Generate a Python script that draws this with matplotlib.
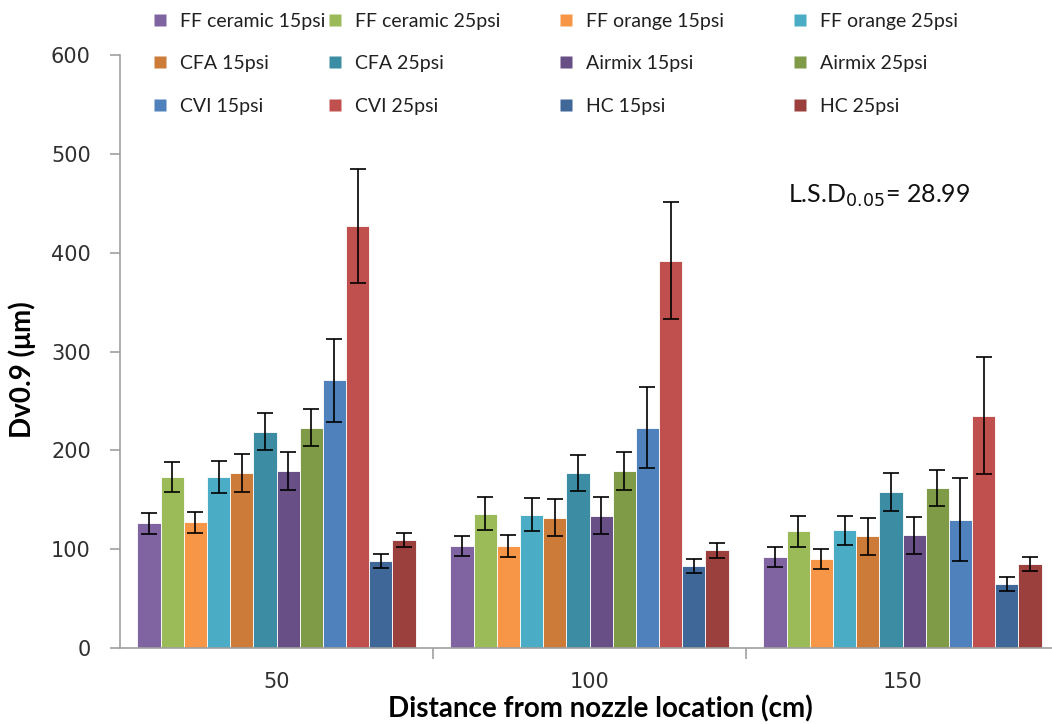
import matplotlib.pyplot as plt
from matplotlib.lines import Line2D
import numpy as np

plt.rcParams['font.family'] = 'DejaVu Sans'
txt_font = 'Lato'

# data
distances = ['50', '100', '150']
series = ['FF ceramic 15psi', 'FF ceramic 25psi', 'FF orange 15psi', 'FF orange 25psi',
          'CFA 15psi', 'CFA 25psi', 'Airmix 15psi', 'Airmix 25psi',
          'CVI 15psi', 'CVI 25psi', 'HC 15psi', 'HC 25psi']
values = [
    [126, 103, 92],    # FF ceramic 15
    [173, 136, 118],   # FF ceramic 25
    [127, 103, 90],    # FF orange 15
    [173, 135, 119],   # FF orange 25
    [177, 132, 113],   # CFA 15
    [219, 177, 158],   # CFA 25
    [179, 134, 114],   # Airmix 15
    [223, 179, 162],   # Airmix 25
    [271, 223, 130],   # CVI 15
    [427, 392, 235],   # CVI 25
    [88, 83, 65],      # HC 15
    [109, 99, 85],     # HC 25
]
errors = [
    [10.5, 10, 10],
    [15, 16.5, 16],
    [11, 11, 10.5],
    [16, 16.5, 15],
    [19, 19, 19],
    [19, 18, 19],
    [19, 19, 19],
    [19, 19.5, 18],
    [42, 41, 42],
    [58, 59, 59],
    [7, 7, 7],
    [7, 7.5, 7],
]
colors = ['#8064A2', '#9BBB59', '#F79646', '#4BACC6',
          '#CC7B38', '#3C8DA3', '#684F86', '#7F9B48',
          '#4F81BD', '#C0504D', '#3F6898', '#9C403E']

fig = plt.figure(figsize=(10.52, 7.24), dpi=100)
ax = fig.add_axes([120/1052, 76/724, 939/1052, 593/724])

x = np.arange(len(distances))
w = 1 / 13.5
for i, s in enumerate(series):
    ax.bar(x + (i - 5.5) * w, values[i], width=w, color=colors[i],
           edgecolor='white', linewidth=0.6, label=s,
           yerr=errors[i], error_kw=dict(ecolor='black', elinewidth=1.2, capsize=6, capthick=1.2))

ax.set_xlim(-0.5, 2.5)
ax.set_ylim(0, 600)
ax.set_yticks(np.arange(0, 601, 100))
ax.set_xticks(x, distances)
ax.set_xticks([0.5, 1.5], minor=True)
ax.tick_params(axis='x', which='major', length=0, pad=17, labelsize=15, labelcolor='#303030')
ax.tick_params(axis='x', which='minor', length=8, color='#A0A0A0', width=1.2)
ax.tick_params(axis='y', length=7, color='#A0A0A0', width=1.2, labelsize=15, pad=14,
               labelcolor='#303030')
for sp in ['top', 'right']:
    ax.spines[sp].set_visible(False)
for sp in ['left', 'bottom']:
    ax.spines[sp].set_color('#A0A0A0')
    ax.spines[sp].set_linewidth(1.2)

ax.set_ylabel('Dv0.9 (μm)', fontsize=20, fontweight='bold', family=txt_font)
ax.yaxis.set_label_coords(-0.089, 0.47)
ax.set_xlabel('Distance from nozzle location (cm)', fontsize=20, fontweight='bold',
              family=txt_font)
ax.xaxis.set_label_coords(0.512, -0.079)

ax.text(0.711, 0.7625, 'L.S.D$_{0.05}$= 28.99', transform=ax.transAxes, fontsize=18,
        family=txt_font, va='center', ha='left', color='#101010')

# legend as four columns
col_x = [154, 329, 560, 794]
for c in range(4):
    idx = [c, c + 4, c + 8]
    handles = [Line2D([], [], marker='s', linestyle='none', markersize=8,
                      markerfacecolor=colors[k], markeredgecolor='none') for k in idx]
    fig.legend(handles, [series[k] for k in idx], loc='upper left',
               bbox_to_anchor=(col_x[c] / 1052, 1 - 13 / 724), frameon=False,
               handlelength=0.65, handletextpad=0.7, labelspacing=1.3,
               borderpad=0, borderaxespad=0, labelcolor='#202020',
               prop=dict(family=txt_font, size=14))

fig.savefig('out.png', dpi=100)
